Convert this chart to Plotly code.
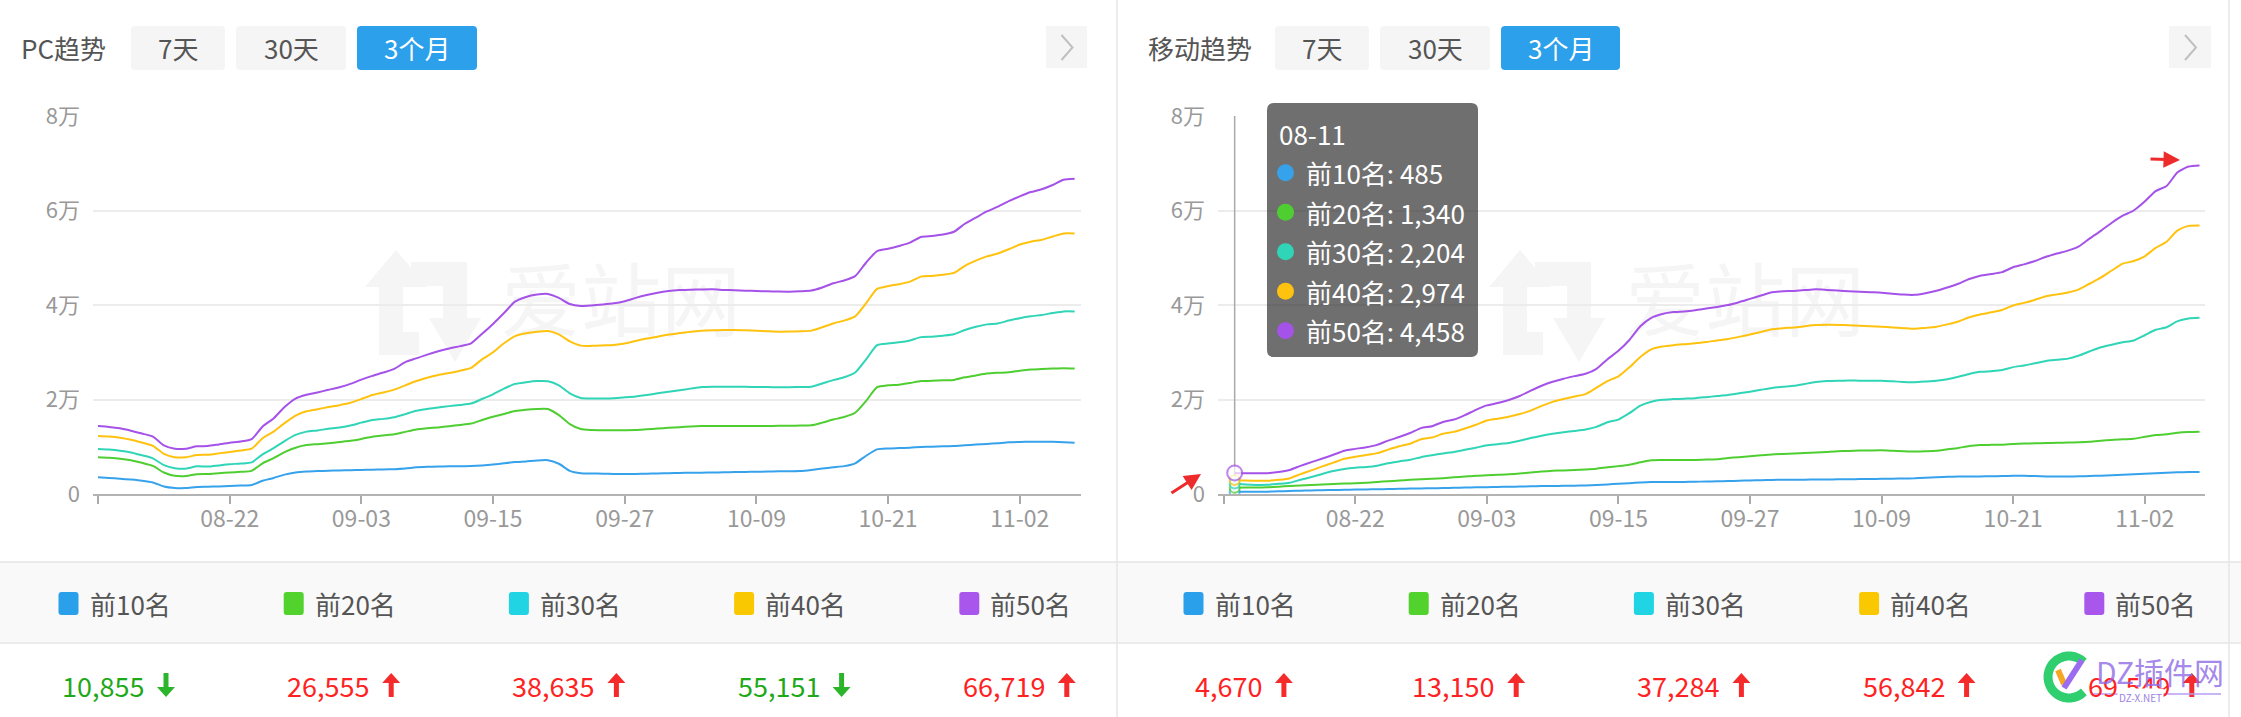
import math
import pandas as pd
import plotly.graph_objects as go

# ---------------- data ----------------
dates = list(pd.date_range("2019-08-10", periods=90, freq="D").strftime("%m-%d"))
series_names = ["前10名", "前20名", "前30名", "前40名", "前50名"]
line_colors = ["#37a2ec", "#4fce32", "#2fd5b6", "#ffc20e", "#a552e8"]
legend_colors = ["#2ba0ea", "#52d22d", "#20d4e4", "#fac800", "#a956ec"]

tick_dates = ["08-10", "08-22", "09-03", "09-15", "09-27", "10-09", "10-21", "11-02"]
tick_text = ["", "08-22", "09-03", "09-15", "09-27", "10-09", "10-21", "11-02"]
y_tickvals = [0, 20000, 40000, 60000, 80000]
y_ticktext = ["0", "2万", "4万", "6万", "8万"]

pc_top10 = [3530, 3400, 3240, 3050, 2820, 2450, 1600, 1280, 1270, 1500,
            1550, 1600, 1690, 1780, 1900, 2800, 3400, 4100, 4550, 4750,
            4850, 4920, 4980, 5040, 5080, 5140, 5200, 5260, 5400, 5650,
            5750, 5800, 5850, 5880, 5920, 6050, 6250, 6500, 6750, 6900,
            7100, 7150, 6400, 4900, 4400, 4350, 4300, 4250, 4230, 4250,
            4300, 4350, 4400, 4450, 4490, 4520, 4550, 4590, 4630, 4670,
            4710, 4750, 4790, 4830, 4870, 5100, 5400, 5650, 5900, 6500,
            8100, 9450, 9650, 9720, 9800, 9950, 10020, 10080, 10150, 10300,
            10450, 10580, 10750, 10950, 11020, 11050, 11070, 11050, 10950, 10855]
pc_top20 = [7760, 7650, 7470, 7150, 6600, 5950, 4550, 3850, 3800, 4200,
            4230, 4400, 4550, 4700, 4900, 6500, 7600, 8850, 9800, 10350,
            10550, 10750, 11000, 11250, 11650, 12130, 12400, 12630, 13150, 13650,
            13900, 14100, 14350, 14600, 14900, 15650, 16350, 16950, 17550, 17850,
            18000, 17990, 16700, 14800, 13750, 13550, 13500, 13480, 13510, 13550,
            13700, 13850, 14000, 14150, 14300, 14390, 14400, 14390, 14390, 14400,
            14390, 14400, 14420, 14450, 14480, 14530, 15100, 15750, 16300, 17200,
            19700, 22600, 23000, 23130, 23500, 23900, 23950, 24050, 24150, 24700,
            25100, 25500, 25650, 25750, 26100, 26350, 26450, 26550, 26620, 26555]
pc_top30 = [9520, 9400, 9170, 8800, 8200, 7550, 6100, 5450, 5360, 5850,
            5800, 6050, 6300, 6450, 6700, 8400, 9700, 11200, 12500, 13200,
            13450, 13800, 14050, 14500, 15100, 15660, 15900, 16250, 16900, 17600,
            18000, 18300, 18600, 18850, 19150, 20100, 21100, 22300, 23300, 23650,
            23900, 23850, 23000, 21300, 20300, 20200, 20220, 20280, 20450, 20650,
            20950, 21300, 21650, 21950, 22300, 22650, 22720, 22720, 22710, 22680,
            22650, 22620, 22580, 22600, 22650, 22720, 23400, 24100, 24700, 25700,
            28500, 31500, 31850, 32100, 32500, 33200, 33290, 33500, 33800, 34700,
            35400, 35900, 36100, 36700, 37200, 37600, 37900, 38300, 38650, 38635]
pc_top40 = [12275, 12150, 11920, 11500, 10900, 10200, 8500, 7800, 7760, 8250,
            8320, 8600, 8890, 9200, 9600, 11800, 13200, 15000, 16600, 17500,
            17950, 18400, 18800, 19300, 20100, 20950, 21500, 22100, 23000, 23900,
            24600, 25200, 25600, 26100, 26700, 28500, 30000, 31900, 33400, 34000,
            34350, 34500, 33800, 32300, 31400, 31350, 31450, 31550, 31850, 32400,
            32900, 33300, 33750, 34050, 34350, 34550, 34650, 34700, 34710, 34650,
            34550, 34450, 34350, 34380, 34450, 34580, 35300, 36100, 36700, 37600,
            40400, 43400, 44000, 44400, 44950, 46000, 46150, 46400, 46800, 48300,
            49400, 50300, 50900, 51800, 52800, 53400, 53800, 54500, 55150, 55151]
pc_top50 = [14390, 14200, 13900, 13400, 12800, 12150, 10300, 9600, 9580, 10100,
            10150, 10500, 10850, 11100, 11600, 14300, 16000, 18400, 20200, 21000,
            21500, 22050, 22600, 23300, 24200, 25000, 25700, 26500, 27900, 28700,
            29500, 30200, 30800, 31300, 31900, 33900, 36000, 38300, 40700, 41700,
            42200, 42330, 41500, 40200, 39800, 39900, 40100, 40350, 40800, 41500,
            42100, 42600, 42950, 43150, 43250, 43300, 43320, 43200, 43100, 43030,
            42950, 42900, 42850, 42820, 42900, 43050, 43700, 44600, 45200, 46100,
            49000, 51400, 51900, 52500, 53200, 54400, 54600, 54900, 55500, 57200,
            58500, 59800, 60800, 62000, 63000, 63900, 64500, 65400, 66500, 66719]

mobile_top10 = [None, 485, 480, 485, 495, 560, 650, 710, 760, 810,
                850, 890, 930, 970, 1010, 1050, 1100, 1140, 1180, 1220,
                1260, 1310, 1360, 1410, 1450, 1490, 1530, 1580, 1630, 1670,
                1700, 1730, 1770, 1800, 1880, 2020, 2170, 2300, 2450, 2540,
                2540, 2540, 2560, 2600, 2640, 2690, 2740, 2800, 2870, 2930,
                2980, 3000, 3020, 3040, 3060, 3080, 3100, 3120, 3150, 3180,
                3210, 3240, 3270, 3310, 3420, 3550, 3650, 3680, 3680, 3720,
                3760, 3800, 3840, 3880, 3800, 3700, 3680, 3700, 3750, 3810,
                3870, 3950, 4050, 4180, 4300, 4400, 4500, 4590, 4640, 4670]
mobile_top20 = [None, 1340, 1350, 1380, 1420, 1550, 1690, 1800, 1900, 2010,
                2120, 2200, 2290, 2380, 2550, 2700, 2850, 3000, 3120, 3230,
                3350, 3520, 3700, 3880, 3960, 4060, 4170, 4350, 4550, 4750,
                4900, 5000, 5100, 5200, 5350, 5650, 5900, 6200, 6700, 7150,
                7200, 7200, 7200, 7200, 7280, 7380, 7600, 7800, 8000, 8200,
                8380, 8480, 8570, 8660, 8760, 8900, 9050, 9120, 9180, 9220,
                9240, 9150, 9050, 8980, 9050, 9150, 9450, 9750, 10150, 10350,
                10400, 10440, 10600, 10680, 10720, 10780, 10830, 10880, 10950, 11050,
                11250, 11450, 11580, 11680, 12100, 12500, 12620, 12950, 13100, 13150]
mobile_top30 = [None, 2204, 2000, 1920, 1950, 2150, 2380, 3000, 3600, 4250,
                4870, 5300, 5570, 5720, 6000, 6500, 6900, 7250, 7800, 8200,
                8580, 8900, 9350, 9800, 10300, 10550, 10800, 11250, 11850, 12350,
                12750, 13080, 13350, 13650, 14200, 15200, 15750, 17100, 18700, 19540,
                19950, 20080, 20180, 20290, 20500, 20720, 20950, 21300, 21650, 22050,
                22450, 22700, 22900, 23300, 23680, 23900, 23980, 24000, 23990, 23980,
                23970, 23850, 23720, 23650, 23800, 23980, 24300, 24800, 25400, 25850,
                26000, 26250, 26850, 27200, 27650, 28150, 28400, 28650, 29300, 30200,
                31050, 31600, 32100, 32500, 33600, 34750, 35280, 36600, 37150, 37284]
mobile_top40 = [None, 2974, 2850, 2810, 2820, 3000, 3300, 4200, 5000, 5850,
                6630, 7450, 7900, 8250, 8650, 9400, 10100, 10650, 11600, 11950,
                12750, 13150, 13850, 14650, 15550, 15950, 16350, 16930, 17640, 18650,
                19500, 20100, 20650, 21150, 22500, 23900, 24900, 26800, 29000, 30620,
                31200, 31500, 31700, 31880, 32150, 32500, 32800, 33250, 33750, 34300,
                34850, 35100, 35230, 35500, 35750, 35800, 35780, 35700, 35600, 35500,
                35410, 35250, 35100, 34950, 35150, 35400, 35900, 36500, 37400, 38000,
                38450, 38950, 39900, 40450, 41100, 41850, 42250, 42650, 43300, 44550,
                45800, 47300, 48750, 49300, 50300, 52100, 53400, 55800, 56750, 56842]
mobile_top50 = [None, 4458, 4380, 4370, 4400, 4650, 5080, 5950, 6750, 7500,
                8300, 9170, 9550, 9900, 10400, 11300, 12050, 12900, 13950, 14350,
                15250, 15750, 16700, 17800, 18750, 19250, 19900, 20750, 21860, 22900,
                23750, 24400, 24950, 25450, 26500, 28500, 30300, 32600, 35500, 37300,
                38100, 38500, 38650, 38900, 39250, 39600, 40000, 40600, 41300, 42000,
                42700, 42900, 42980, 43150, 43320, 43200, 43050, 42900, 42800, 42700,
                42600, 42400, 42200, 42150, 42500, 43000, 43700, 44500, 45500, 46200,
                46550, 46950, 48000, 48600, 49300, 50200, 50900, 51500, 52400, 54100,
                55700, 57400, 58900, 60000, 61900, 64100, 65200, 68100, 69300, 69549]

pc_series = [pc_top10, pc_top20, pc_top30, pc_top40, pc_top50]
mobile_series = [mobile_top10, mobile_top20, mobile_top30, mobile_top40, mobile_top50]
pc_trend = ["down", "up", "up", "down", "up"]
mobile_trend = ["up", "up", "up", "up", "up"]
hover_index = 1
button_labels = ["7天", "30天", "3个月"]

# ---------------- geometry helpers ----------------
W, H = 2241, 717
FONT = "Noto Sans CJK SC"
PLOT_TOP, PLOT_BOTTOM = 116, 494


def px(x):
    return x / W


def py(y):
    return 1 - y / H


def poly(pts):
    return "M " + " L ".join(f"{px(x):.5f},{py(y):.5f}" for x, y in pts) + " Z"


def rrect(x0, y0, x1, y1, r):
    P = lambda x, y: f"{px(x):.5f},{py(y):.5f}"
    return (f"M {P(x0 + r, y0)} L {P(x1 - r, y0)} Q {P(x1, y0)} {P(x1, y0 + r)} "
            f"L {P(x1, y1 - r)} Q {P(x1, y1)} {P(x1 - r, y1)} L {P(x0 + r, y1)} "
            f"Q {P(x0, y1)} {P(x0, y1 - r)} L {P(x0, y0 + r)} Q {P(x0, y0)} {P(x0 + r, y0)} Z")


panels = [
    dict(title="PC趋势", title_x=19, buttons=[(131, 225), (236, 346), (357, 477)],
         arrow_box=(1046, 1087), plot=(93, 1081), xrange=(-0.456, 89.58),
         xa="x2", ya="y2", series=pc_series, trend=pc_trend, col0=119.5, dx=0),
    dict(title="移动趋势", title_x=1146, buttons=[(1275, 1369), (1380, 1490), (1501, 1620)],
         arrow_box=(2169, 2211), plot=(1218, 2205), xrange=(-0.52, 89.5),
         xa="x3", ya="y3", series=mobile_series, trend=mobile_trend, col0=1244.5, dx=1124),
]

fig = go.Figure()
shapes = []
annotations = []

WM = "#f5f5f5"
# background subplot for watermark text (drawn beneath the lines)
for p in panels:
    fig.add_trace(go.Scatter(x=[621 + p["dx"]], y=[310], mode="text", text=["爱站网"],
                             textfont=dict(size=80, color=WM, family=FONT),
                             xaxis="x", yaxis="y", hoverinfo="skip", showlegend=False))
    d = p["dx"] - 1
    shapes.append(dict(type="path", xref="paper", yref="paper", layer="below",
                       path=poly([(x + d, y) for x, y in [(397, 250), (428, 287), (404, 287), (404, 332), (420, 332),
                                                          (420, 355), (380, 355), (380, 287), (366, 287)]]),
                       fillcolor=WM, line=dict(width=0)))
    shapes.append(dict(type="path", xref="paper", yref="paper", layer="below",
                       path=poly([(x + d, y) for x, y in [(412, 262), (468, 262), (468, 318), (482, 318), (456, 362),
                                                          (430, 318), (444, 318), (444, 286), (412, 286)]]),
                       fillcolor=WM, line=dict(width=0)))

# line traces
for p in panels:
    for s in range(5):
        fig.add_trace(go.Scatter(
            x=dates, y=p["series"][s], mode="lines", name=series_names[s],
            line=dict(color=line_colors[s], width=2, shape="spline", smoothing=0.6),
            xaxis=p["xa"], yaxis=p["ya"], hoverinfo="skip", showlegend=False))

# hovered point markers on the mobile chart
mp = panels[1]
fig.add_trace(go.Scatter(
    x=[dates[hover_index]] * 5, y=[mobile_series[s][hover_index] for s in range(5)],
    mode="markers", xaxis=mp["xa"], yaxis=mp["ya"], hoverinfo="skip", showlegend=False,
    marker=dict(color="white", size=[10, 10, 10, 10, 15],
                line=dict(color=line_colors, width=2))))
shapes.append(dict(type="line", xref="x3", yref="y3", layer="between",
                   x0=dates[hover_index], x1=dates[hover_index], y0=0, y1=80000,
                   line=dict(color="#aaaaaa", width=1.5)))

# tooltip
tx0, ty0, tx1, ty1 = 1267, 103, 1478, 357
shapes.append(dict(type="path", xref="paper", yref="paper", layer="above",
                   path=rrect(tx0, ty0, tx1, ty1, 7), fillcolor="rgba(50,50,50,0.7)", line=dict(width=0)))
annotations.append(dict(x=px(1277), y=py(133), xref="paper", yref="paper", xanchor="left", yanchor="middle",
                        text=dates[hover_index], showarrow=False, font=dict(size=26, color="white", family=FONT)))
for s in range(5):
    cy = 172.7 + 39.5 * s
    shapes.append(dict(type="circle", xref="paper", yref="paper", layer="above",
                       x0=px(1277), x1=px(1294), y0=py(cy + 8.5), y1=py(cy - 8.5),
                       fillcolor=line_colors[s], line=dict(width=0)))
    annotations.append(dict(x=px(1304), y=py(cy), xref="paper", yref="paper", xanchor="left", yanchor="middle",
                            text=f"{series_names[s]}: {mobile_series[s][hover_index]:,}", showarrow=False,
                            font=dict(size=26, color="white", family=FONT)))

# red marker arrows (hand annotations)
annotations.append(dict(x=px(1201), y=py(474), xref="paper", yref="paper", ax=-31, ay=20, text="",
                        showarrow=True, arrowhead=2, arrowsize=1.1, arrowwidth=3, arrowcolor="#ee2b2b", standoff=0))
annotations.append(dict(x=px(2180), y=py(160), xref="paper", yref="paper", ax=-31, ay=-1, text="",
                        showarrow=True, arrowhead=2, arrowsize=1.1, arrowwidth=3, arrowcolor="#ee2b2b", standoff=0))

# legend row background
shapes.append(dict(type="rect", xref="paper", yref="paper", layer="below", x0=0, x1=1, y0=py(643), y1=py(562),
                   fillcolor="#f9f9f9", line=dict(width=0)))
for yy in (562, 643):
    shapes.append(dict(type="line", xref="paper", yref="paper", layer="below", x0=0, x1=1, y0=py(yy), y1=py(yy),
                       line=dict(color="#e6e6e6", width=1.5)))
for xx in (1117, 2229):
    shapes.append(dict(type="line", xref="paper", yref="paper", layer="above", x0=px(xx), x1=px(xx), y0=0, y1=1,
                       line=dict(color="#e6e6e6", width=1.5)))

# headers, legend, totals
for p in panels:
    annotations.append(dict(x=px(p["title_x"]), y=py(48), xref="paper", yref="paper", xanchor="left",
                            yanchor="middle", text=p["title"], showarrow=False,
                            font=dict(size=26, color="#555555", family=FONT)))
    for b, (bx0, bx1) in enumerate(p["buttons"]):
        active = b == 2
        shapes.append(dict(type="path", xref="paper", yref="paper", layer="below",
                           path=rrect(bx0, 26, bx1, 70, 4),
                           fillcolor="#2ca0ea" if active else "#f5f5f5", line=dict(width=0)))
        annotations.append(dict(x=px((bx0 + bx1) / 2), y=py(48), xref="paper", yref="paper", xanchor="center",
                                yanchor="middle", text=button_labels[b], showarrow=False,
                                font=dict(size=26, color="white" if active else "#555555", family=FONT)))
    ax0, ax1 = p["arrow_box"]
    shapes.append(dict(type="rect", xref="paper", yref="paper", layer="below", x0=px(ax0), x1=px(ax1),
                       y0=py(68), y1=py(26), fillcolor="#f5f5f5", line=dict(width=0)))
    cx = (ax0 + ax1) / 2
    shapes.append(dict(type="path", xref="paper", yref="paper", layer="above",
                       path=f"M {px(cx - 5):.5f},{py(35):.5f} L {px(cx + 6):.5f},{py(47.5):.5f} L {px(cx - 5):.5f},{py(60):.5f}",
                       line=dict(color="#c0c0c0", width=2)))
    for s in range(5):
        ccx = p["col0"] + 225.2 * s
        sx = ccx - 61
        shapes.append(dict(type="path", xref="paper", yref="paper", layer="above",
                           path=rrect(sx, 592, sx + 20, 615, 3), fillcolor=legend_colors[s], line=dict(width=0)))
        annotations.append(dict(x=px(sx + 29), y=py(603), xref="paper", yref="paper", xanchor="left",
                                yanchor="middle", text=series_names[s], showarrow=False,
                                font=dict(size=26, color="#555555", family=FONT)))
        final = [v for v in p["series"][s] if v is not None][-1]
        label = f"{final:,}"
        tw = 14.2 * sum(c.isdigit() for c in label) + 11 * label.count(",")
        arrow_x = ccx + (tw + 29) / 2 - 18
        up = p["trend"][s] == "up"
        col = "#ff2222" if up else "#1fa91a"
        annotations.append(dict(x=px(arrow_x - 11), y=py(685), xref="paper", yref="paper", xanchor="right",
                                yanchor="middle", text=label, showarrow=False,
                                font=dict(size=27, color=col, family=FONT)))
        a, t = arrow_x, 673
        if up:
            pts = [(a + 9, t), (a + 18, t + 10), (a + 11.5, t + 10), (a + 11.5, t + 24),
                   (a + 6.5, t + 24), (a + 6.5, t + 10), (a, t + 10)]
        else:
            pts = [(a + 9, t + 24), (a + 18, t + 14), (a + 11.5, t + 14), (a + 11.5, t),
                   (a + 6.5, t), (a + 6.5, t + 14), (a, t + 14)]
        shapes.append(dict(type="path", xref="paper", yref="paper", layer="above", path=poly(pts),
                           fillcolor="#f52a2a" if up else "#2ab52a", line=dict(width=0)))

# site watermark (bottom right overlay)
arc = [(2069 + 21 * math.cos(math.radians(a)), 677 - 21 * math.sin(math.radians(a))) for a in range(45, 320, 10)]
shapes.append(dict(type="path", xref="paper", yref="paper", layer="above",
                   path="M " + " L ".join(f"{px(x):.5f},{py(y):.5f}" for x, y in arc),
                   line=dict(color="#2fcf6f", width=9)))
shapes.append(dict(type="line", xref="paper", yref="paper", layer="above", x0=px(2058), y0=py(670), x1=px(2064),
                   y1=py(684), line=dict(color="#f5a623", width=6)))
shapes.append(dict(type="line", xref="paper", yref="paper", layer="above", x0=px(2064), y0=py(688), x1=px(2082),
                   y1=py(660), line=dict(color="#9b6cf0", width=6)))
shapes.append(dict(type="line", xref="paper", yref="paper", layer="above", x0=px(2093), y0=py(694), x1=px(2221),
                   y1=py(694), line=dict(color="#b59cf2", width=1.5)))
annotations.append(dict(x=px(2160), y=py(671), xref="paper", yref="paper", xanchor="center", yanchor="middle",
                        text="DZ插件网", showarrow=False,
                        font=dict(size=30, color="rgba(140,105,230,0.8)", family=FONT)))
annotations.append(dict(x=px(2140), y=py(697), xref="paper", yref="paper", xanchor="center", yanchor="middle",
                        text="DZ-X.NET", showarrow=False, bgcolor="white",
                        font=dict(size=10, color="#9b7fe6", family=FONT)))

# ---------------- axes ----------------
layout_axes = dict(
    xaxis=dict(domain=[0, 1], range=[0, W], visible=False, fixedrange=True),
    yaxis=dict(domain=[0, 1], range=[H, 0], visible=False, fixedrange=True),
)
for k, p in enumerate(panels, start=2):
    layout_axes[f"xaxis{k}"] = dict(
        domain=[px(p["plot"][0]), px(p["plot"][1])], anchor=f"y{k}", type="category",
        categoryorder="array", categoryarray=dates, range=list(p["xrange"]),
        tickmode="array", tickvals=tick_dates, ticktext=tick_text,
        ticks="outside", ticklen=8, tickwidth=1.5, tickcolor="#aaaaaa",
        showline=True, linecolor="#b3b3b3", linewidth=2, showgrid=False, zeroline=False,
        ticklabelstandoff=-5,
        tickfont=dict(size=23, color="#999999", family=FONT), automargin=False, fixedrange=True)
    layout_axes[f"yaxis{k}"] = dict(
        domain=[py(PLOT_BOTTOM), py(PLOT_TOP)], anchor=f"x{k}", range=[0, 80000],
        tickmode="array", tickvals=y_tickvals, ticktext=y_ticktext,
        showgrid=True, gridcolor="#ececec", gridwidth=1.5, zeroline=False, showline=False, ticks="",
        ticklabelstandoff=12, tickfont=dict(size=22, color="#999999", family=FONT),
        automargin=False, fixedrange=True)

fig.update_layout(
    width=W, height=H, margin=dict(l=0, r=0, t=0, b=0),
    paper_bgcolor="white", plot_bgcolor="rgba(0,0,0,0)",
    showlegend=False, hovermode=False,
    font=dict(family=FONT),
    shapes=shapes, annotations=annotations,
    **layout_axes,
)

fig.write_html("out.html")
